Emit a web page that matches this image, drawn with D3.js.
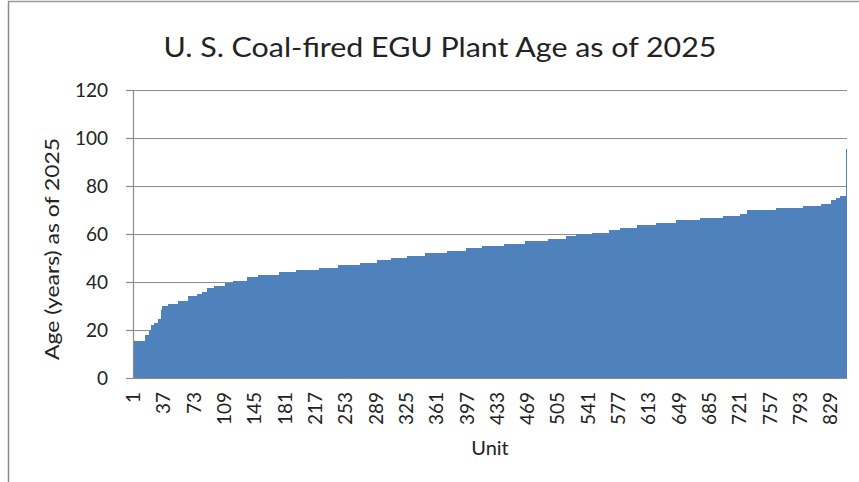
<!DOCTYPE html>
<html>
<head>
<meta charset="utf-8">
<script src="https://cdn.jsdelivr.net/npm/d3@7"></script>
<style>
  html, body { margin: 0; padding: 0; background: #fff; }
  svg { display: block; }
  text { font-family: Lato, "Liberation Sans", sans-serif; fill: #222; }
</style>
</head>
<body>
<svg id="chart" width="859" height="482"></svg>
<script>
// Step levels of the sorted unit ages (years as of 2025) and how many units share each level
const ageLevels = [15.5, 18, 20, 22, 23, 24.5, 28.5, 30, 31, 32, 34, 35, 36, 37.5, 38.5, 39.5,
  40.5, 42, 43, 44, 45, 46, 47, 48, 49, 50, 51, 52, 53, 54, 55, 56, 57, 58, 59, 60, 60.5,
  61.7, 62.7, 63.7, 64.5, 65.8, 66.6, 67.6, 68.3, 70, 70.8, 71.6, 72.6, 74, 74.8, 76, 95.5];
const unitCounts = [14, 5, 2, 4, 5, 3, 2, 7, 11, 12, 11, 6, 6, 8, 13, 10,
  16, 13, 25, 21, 27, 22, 27, 20, 17, 19, 21, 26, 22, 19, 27, 25, 27, 21, 12, 19, 20,
  13, 21, 22, 24, 28, 28, 20, 8, 35, 32, 21, 12, 6, 5, 7, 1];
const xTickLabels = [1, 37, 73, 109, 145, 181, 217, 253, 289, 325, 361, 397, 433, 469, 505,
  541, 577, 613, 649, 685, 721, 757, 793, 829];
const yTickValues = [0, 20, 40, 60, 80, 100, 120];
const titleText = "U. S. Coal-fired EGU Plant Age as of 2025";
const yTitle = "Age (years) as of 2025";
const xTitle = "Unit";

(function () {
  // expand into one record per unit
  const units = [];
  let u = 1;
  ageLevels.forEach((a, i) => {
    for (let k = 0; k < unitCounts[i]; k++) units.push({ unit: u++, age: a });
  });

  const svg = d3.select("#chart");
  const pLeft = 133, pRight = 847, pTop = 90, pBottom = 378;

  const x = d3.scaleBand().domain(units.map(d => d.unit)).range([pLeft, pRight]).padding(0);
  const y = d3.scaleLinear().domain([0, 120]).range([pBottom, pTop]);

  // chart frame
  svg.append("line").attr("x1", 8).attr("x2", 859).attr("y1", 1.5).attr("y2", 1.5)
    .attr("stroke", "#9a9a9a").attr("stroke-width", 1.5);
  svg.append("line").attr("x1", 8.5).attr("x2", 8.5).attr("y1", 1).attr("y2", 482)
    .attr("stroke", "#8a8a8a").attr("stroke-width", 1.5);

  // gridlines
  svg.append("g").selectAll("line").data(yTickValues.filter(v => v > 0)).join("line")
    .attr("x1", pLeft - 7).attr("x2", pRight)
    .attr("y1", d => y(d) + 0.5).attr("y2", d => y(d) + 0.5)
    .attr("stroke", "#8c8c8c").attr("stroke-width", 1.2);

  // bars
  svg.append("g").attr("shape-rendering", "crispEdges")
    .selectAll("rect").data(units).join("rect")
    .attr("x", d => x(d.unit))
    .attr("width", d => x.bandwidth() + (d.unit === units.length ? 0 : 0.5))
    .attr("y", d => y(d.age))
    .attr("height", d => y(0) - y(d.age))
    .attr("fill", "#4f81bd");

  // y axis
  const yAxis = svg.append("g").attr("transform", `translate(${pLeft},0)`)
    .call(d3.axisLeft(y).tickValues(yTickValues).tickSize(7).tickPadding(18).tickFormat(d3.format("d")));
  yAxis.select(".domain").attr("stroke", "#8c8c8c").attr("stroke-width", 1.2);
  yAxis.selectAll(".tick line").attr("stroke", "#8c8c8c").attr("stroke-width", 1.2);
  yAxis.selectAll(".tick text").attr("font-size", 19).attr("font-family", "Lato, sans-serif").attr("fill", "#222");

  // x axis baseline
  svg.append("line").attr("x1", pLeft - 7).attr("x2", pRight)
    .attr("y1", pBottom + 0.5).attr("y2", pBottom + 0.5)
    .attr("stroke", "#8c8c8c").attr("stroke-width", 1.2);

  // x tick labels (rotated)
  svg.append("g").selectAll("text").data(xTickLabels).join("text")
    .attr("transform", d => `translate(${x(d) + x.bandwidth() / 2},${pBottom + 14}) rotate(-90)`)
    .attr("text-anchor", "end")
    .attr("dy", "0.35em")
    .attr("font-size", 19)
    .text(d => d);

  // titles
  svg.append("text").attr("x", 440).attr("y", 57).attr("text-anchor", "middle")
    .attr("font-size", 27).attr("textLength", 553).attr("lengthAdjust", "spacingAndGlyphs")
    .text(titleText);
  svg.append("text").attr("transform", "translate(59,249) rotate(-90)")
    .attr("text-anchor", "middle").attr("font-size", 19)
    .attr("textLength", 222).attr("lengthAdjust", "spacingAndGlyphs")
    .text(yTitle);
  svg.append("text").attr("x", 490).attr("y", 455).attr("text-anchor", "middle")
    .attr("font-size", 20).text(xTitle);
})();
</script>
</body>
</html>
